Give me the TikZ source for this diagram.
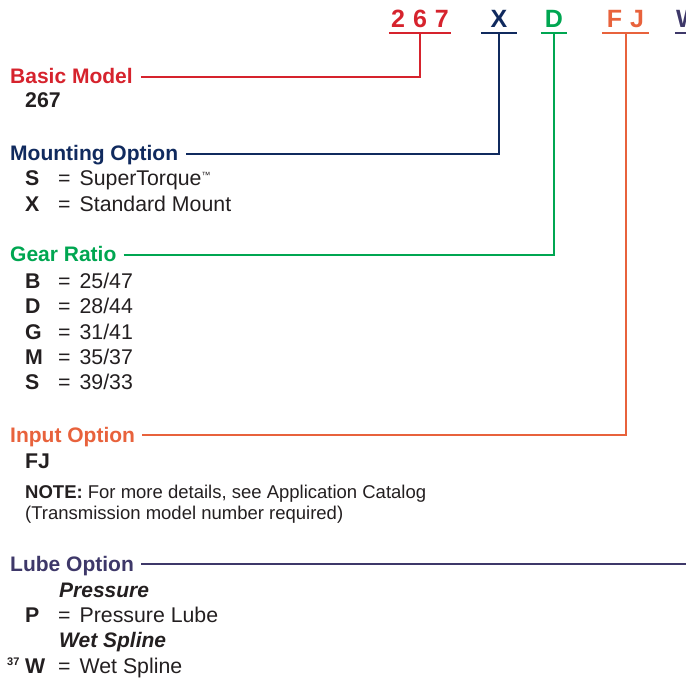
\documentclass[tikz,border=0pt]{standalone}
\usepackage{fontspec}
\setmainfont{Liberation Sans}
\usetikzlibrary{positioning}
\definecolor{modelred}{RGB}{214,35,45}
\definecolor{mountblue}{RGB}{16,42,94}
\definecolor{geargreen}{RGB}{0,166,81}
\definecolor{inputorange}{RGB}{232,98,60}
\definecolor{lubepurple}{RGB}{62,56,105}
\definecolor{ink}{RGB}{35,31,32}
\newcommand{\optrow}[2]{\makebox[33pt][l]{\bfseries #1}=\hspace{9pt}#2}
\tikzset{
  heading/.style = {
    anchor=base west,
    inner sep=0pt,
    text height=14pt,
    text depth=0pt,
    font=\fontsize{21}{25}\selectfont\bfseries
  },
  code/.style = {
    anchor=base,
    inner sep=0pt,
    text height=18pt,
    text depth=5pt,
    font=\fontsize{25}{30}\selectfont\bfseries
  },
  entry/.style = {
    anchor=base west,
    inner sep=0pt,
    text=ink,
    font=\fontsize{21.3}{25}\selectfont
  },
  subhead/.style = {
    anchor=base west,
    inner sep=0pt,
    text=ink,
    font=\fontsize{21}{25}\selectfont\bfseries\itshape
  },
  note/.style = {
    anchor=base west,
    inner sep=0pt,
    text=ink,
    font=\fontsize{18.5}{22}\selectfont
  },
  link/.style = {
    line width=2pt
  }
}
\begin{document}
\begin{tikzpicture}[x=1pt,y=-1pt]
\clip (0,0) rectangle (686,679);

% Modellnummer oben
\node[code, text=modelred, minimum width=62pt] (c267) at (420,28) {2\hspace{8pt}6\hspace{8pt}7};
\node[code, text=mountblue, minimum width=36pt] (cX) at (499,28) {X};
\node[code, text=geargreen, minimum width=26pt] (cD) at (554,28) {D};
\node[code, text=inputorange, minimum width=47pt] (cFJ) at (625.5,28) {F\hspace{8pt}J\hspace{8pt}};
\node[code, text=lubepurple, minimum width=26pt] (cW) at (688,28) {W};

\draw[link, modelred] (c267.south west) -- (c267.south east);
\draw[link, mountblue] (cX.south west) -- (cX.south east);
\draw[link, geargreen] (cD.south west) -- (cD.south east);
\draw[link, inputorange] (cFJ.south west) -- (cFJ.south east);
\draw[link, lubepurple] (cW.south west) -- (cW.south east);

% Basic Model
\node[heading, text=modelred] (basic) at (10,84) {Basic Model};
\node[entry] (model) at (25,108) {\bfseries 267};

% Mounting Option
\node[heading, text=mountblue] (mount) at (10,161) {Mounting Option};
\node[entry] (mS) at (25,186) {\optrow{S}{SuperTorque\raisebox{7pt}{\fontsize{9}{9}\selectfont ™}}};
\node[entry] (mX) at (25,212) {\optrow{X}{Standard Mount}};

% Gear Ratio
\node[heading, text=geargreen] (gear) at (10,262) {Gear Ratio};
\node[entry] (gB) at (25,289) {\optrow{B}{25/47}};
\node[entry] (gD) at (25,314) {\optrow{D}{28/44}};
\node[entry] (gG) at (25,339) {\optrow{G}{31/41}};
\node[entry] (gM) at (25,364) {\optrow{M}{35/37}};
\node[entry] (gS) at (25,389) {\optrow{S}{39/33}};

% Input Option
\node[heading, text=inputorange] (input) at (10,442) {Input Option};
\node[entry] (iFJ) at (25,468) {\bfseries FJ};
\node[note] (note1) at (25,498) {\textbf{NOTE:} For more details, see Application Catalog};
\node[note] (note2) at (25,519) {(Transmission model number required)};

% Lube Option
\node[heading, text=lubepurple] (lube) at (10,571) {Lube Option};
\node[subhead] (press) at (59,597) {Pressure};
\node[entry] (lP) at (25,622) {\optrow{P}{Pressure Lube}};
\node[subhead] (wet) at (59,647) {Wet Spline};
\node[entry] (lW) at (25,673) {\optrow{W}{Wet Spline}};
\node[anchor=base west, inner sep=0pt, text=ink, font=\fontsize{11}{12}\selectfont\bfseries] (fn37) at (7,665) {37};

% Verbindungen
\draw[link, modelred] ([xshift=8pt]basic.east) -| (c267.south);
\draw[link, mountblue] ([xshift=8pt]mount.east) -| (cX.south);
\draw[link, geargreen] ([xshift=7pt]gear.east) -| (cD.south);
\draw[link, inputorange] ([xshift=7pt]input.east) -| (cFJ.south);
\draw[link, lubepurple] ([xshift=7pt]lube.east) -| (cW.south);

\end{tikzpicture}
\end{document}
